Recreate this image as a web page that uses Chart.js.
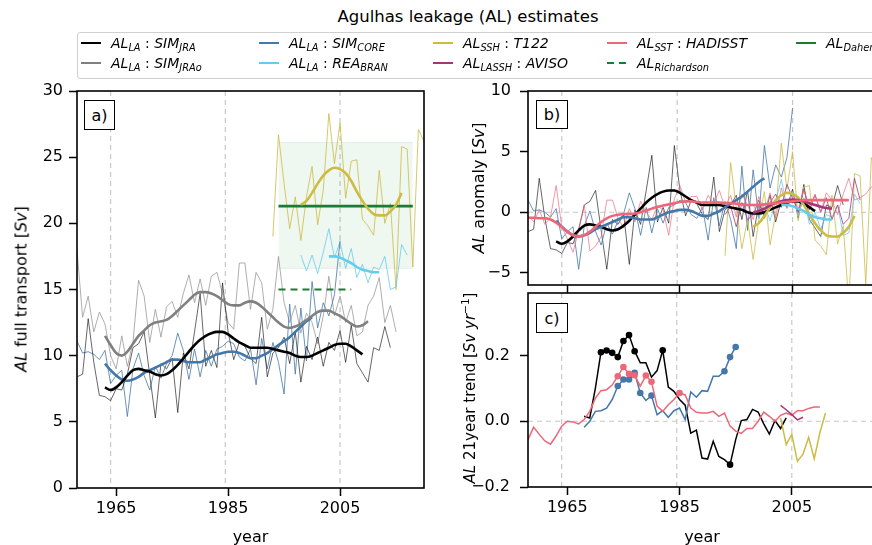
<!DOCTYPE html>
<html>
<head>
<meta charset="utf-8">
<script src="https://cdn.jsdelivr.net/npm/chart.js@4.4.1/dist/chart.umd.min.js"></script>
<style>
  body { margin: 0; width: 872px; height: 545px; overflow: hidden; position: relative; background: #fff; font-family: 'DejaVu Sans', sans-serif; color: #000; }
  canvas { position: absolute; }
  #title { position: absolute; left: 0; width: 936px; top: 7px; text-align: center; font-size: 16.5px; z-index: 3; }
  #legend { position: absolute; left: 77px; top: 32px; width: 820px; height: 45px; border: 1px solid #cfcfcf; border-radius: 3px; background: rgba(255,255,255,0.85); z-index: 3; }
  .it { position: absolute; height: 20px; display: flex; align-items: center; font-size: 14px; white-space: nowrap; }
  .it i { font-style: italic; }
  .sw { display: inline-block; width: 20px; height: 2.6px; margin-right: 10px; }
  sub { font-size: 70%; vertical-align: -0.35em; line-height: 0; }
  sup { font-size: 70%; vertical-align: 0.6em; line-height: 0; }
  .yt { position: absolute; font-size: 16px; white-space: nowrap; transform: translate(-50%, -50%) rotate(-90deg); z-index: 3; }
  .pl { position: absolute; border: 1.3px solid #000; font-size: 16px; display: flex; align-items: center; justify-content: center; background: #fff; z-index: 3; box-sizing: border-box; }
</style>
</head>
<body>
<div id="title">Agulhas leakage (AL) estimates</div>
<div id="legend">
  <div class="it" style="left:3px;top:0px"><span class="sw" style="background:#000"></span><i>AL<sub>LA</sub></i>&nbsp;:&nbsp;<i>SIM<sub>JRA</sub></i></div>
  <div class="it" style="left:3px;top:20px"><span class="sw" style="background:#808080"></span><i>AL<sub>LA</sub></i>&nbsp;:&nbsp;<i>SIM<sub>JRAo</sub></i></div>
  <div class="it" style="left:181px;top:0px"><span class="sw" style="background:#4477AA"></span><i>AL<sub>LA</sub></i>&nbsp;:&nbsp;<i>SIM<sub>CORE</sub></i></div>
  <div class="it" style="left:181px;top:20px"><span class="sw" style="background:#66CCEE"></span><i>AL<sub>LA</sub></i>&nbsp;:&nbsp;<i>REA<sub>BRAN</sub></i></div>
  <div class="it" style="left:355px;top:0px"><span class="sw" style="background:#CCBB44"></span><i>AL<sub>SSH</sub></i>&nbsp;:&nbsp;<i>T122</i></div>
  <div class="it" style="left:355px;top:20px"><span class="sw" style="background:#AA3377"></span><i>AL<sub>LASSH</sub></i>&nbsp;:&nbsp;<i>AVISO</i></div>
  <div class="it" style="left:529px;top:0px"><span class="sw" style="background:#EE6677"></span><i>AL<sub>SST</sub></i>&nbsp;:&nbsp;<i>HADISST</i></div>
  <div class="it" style="left:529px;top:20px"><span class="sw" style="background:repeating-linear-gradient(90deg,#1b7a34 0 7px,transparent 7px 12px)"></span><i>AL<sub>Richardson</sub></i></div>
  <div class="it" style="left:718px;top:0px"><span class="sw" style="background:#1b7a34"></span><i>AL<sub>Daher</sub></i></div>
</div>

<div class="yt" style="left:21px;top:289px"><i>AL</i> full transport [<i>Sv</i>]</div>
<div class="yt" style="left:478px;top:188px"><i>AL</i> anomaly [<i>Sv</i>]</div>
<div class="yt" style="left:470px;top:388px;font-size:15px"><i>AL</i> 21year trend [<i>Sv yr</i><sup>−1</sup>]</div>

<div class="pl" style="left:84px;top:100px;width:31px;height:30px">a)</div>
<div class="pl" style="left:536px;top:100px;width:32px;height:29px">b)</div>
<div class="pl" style="left:536px;top:303px;width:32px;height:30px">c)</div>

<canvas id="chartA" width="440" height="479" style="left:0px;top:71px"></canvas>
<canvas id="chartB" width="440" height="234" style="left:440px;top:71px"></canvas>
<canvas id="chartC" width="440" height="278" style="left:440px;top:272px"></canvas>

<script>
// axis layout
const X_MIN = 1958, X_MAX = 2020;
const tickYears = [1965, 1985, 2005];
const gridYears = [1964, 1984.5, 2005];

// panel a: full transport [Sv], annual values
const jraStart = 1958;
const jraFull = [8.4, 8.6, 12.8, 9.5, 7.0, 6.9, 6.6, 7.5, 7.4, 8.6, 10.6, 10.9, 11.8, 8.5, 5.3, 9.4, 9.0, 9.8, 5.7, 10.2,
  9.0, 11.8, 14.7, 9.2, 10.4, 9.1, 15.5, 11.8, 9.7, 11.0, 10.7, 9.8, 9.4, 12.9, 8.4, 10.2, 10.6, 11.4, 9.4, 11.8,
  8.0, 10.7, 9.7, 11.4, 9.2, 11.0, 10.4, 11.9, 9.5, 12.3, 9.4, 8.7, 8.0, 10.6, 10.4, 12.2, 10.6];
const jraoStart = 1958;
const jraoFull = [18.0, 12.9, 14.5, 11.8, 13.3, 12.4, 10.0, 9.0, 11.5, 9.2, 11.0, 15.7, 14.5, 11.0, 13.5, 11.4, 13.7, 14.1, 12.9, 14.7,
  16.1, 14.0, 15.8, 13.8, 16.0, 16.3, 14.7, 12.5, 12.0, 17.0, 17.0, 13.5, 16.3, 15.5, 12.0, 13.5, 17.5, 14.0, 12.5, 13.8,
  11.7, 13.2, 12.5, 10.9, 13.0, 16.0, 13.0, 14.5, 12.5, 13.8, 11.5, 11.8, 13.8, 14.5, 15.9, 12.5, 13.8, 11.8];
const coreStart = 1958;
const coreFull = [11.1, 10.2, 10.3, 10.1, 9.7, 10.4, 7.9, 8.5, 8.9, 5.4, 9.0, 10.2, 8.5, 7.4, 9.2, 8.3, 9.4, 10.0, 11.7, 10.4,
  8.2, 10.5, 8.4, 10.4, 9.2, 10.5, 10.7, 11.1, 10.9, 9.9, 9.6, 10.5, 7.8, 11.3, 9.0, 11.0, 9.5, 7.1, 13.9, 8.6,
  13.6, 9.6, 15.6, 12.1, 14.0, 13.0, 14.6, 18.7];
const branStart = 1998;
const branFull = [17.6, 16.4, 17.6, 16.2, 17.8, 19.6, 17.4, 18.6, 16.6, 18.1, 15.9, 16.9, 15.5, 16.7, 16.5, 17.5, 15.0, 15.2, 18.4, 17.6];
const t122Start = 1993;
const t122Full = [19.0, 26.7, 23.0, 19.6, 22.0, 18.7, 22.0, 24.3, 19.9, 22.5, 28.3, 24.5, 27.6, 21.9, 24.7, 24.8, 20.3, 19.8, 19.1, 24.0,
  20.0, 21.5, 15.0, 25.8, 25.6, 16.7, 27.1, 26.2];

// panel a: low-pass curves
const jraSmoothStart = 1963;
const jraSmooth = [7.6, 7.4, 7.6, 8.0, 8.5, 8.9, 9.0, 8.9, 8.8, 8.6, 8.5, 8.6, 8.9, 9.3, 9.8, 10.3, 10.8, 11.2, 11.5, 11.7,
  11.8, 11.8, 11.6, 11.3, 11.0, 10.8, 10.6, 10.6, 10.6, 10.6, 10.5, 10.4, 10.3, 10.2, 10.0, 9.9, 9.9, 10.0, 10.2, 10.4,
  10.6, 10.8, 10.9, 10.9, 10.7, 10.4, 10.1];
const jraoSmoothStart = 1963;
const jraoSmooth = [11.5, 10.8, 10.2, 10.0, 10.3, 10.9, 11.5, 11.9, 12.3, 12.5, 12.6, 12.7, 13.0, 13.4, 13.8, 14.2, 14.6, 14.8, 14.8, 14.7,
  14.5, 14.2, 13.9, 13.8, 13.8, 14.0, 14.1, 14.0, 13.7, 13.3, 12.9, 12.5, 12.2, 12.1, 12.2, 12.4, 12.7, 13.0, 13.3, 13.4,
  13.4, 13.2, 13.0, 12.7, 12.4, 12.2, 12.3, 12.6];
const coreSmoothStart = 1963;
const coreSmooth = [9.4, 8.9, 8.5, 8.2, 8.1, 8.2, 8.4, 8.7, 8.9, 9.1, 9.3, 9.5, 9.7, 9.7, 9.6, 9.5, 9.5, 9.5, 9.7, 9.9,
  10.1, 10.2, 10.3, 10.3, 10.2, 10.0, 9.8, 9.8, 10.0, 10.2, 10.5, 10.8, 11.1, 11.4, 11.8, 12.2, 12.6, 12.9];
const branSmoothStart = 2003;
const branSmooth = [17.5, 17.5, 17.4, 17.2, 17.0, 16.7, 16.5, 16.4, 16.3, 16.3];
const t122SmoothStart = 1998;
const t122Smooth = [21.4, 21.7, 22.3, 23.0, 23.6, 24.0, 24.2, 24.1, 23.8, 23.2, 22.4, 21.7, 21.1, 20.7, 20.6, 20.6, 20.9, 21.4, 22.3];

// panel a: observational estimates
const daherYears = [1994, 2018];
const daherMean = 21.3, daherHigh = 26.1, daherLow = 16.6;
const richardsonYears = [1994, 2007];
const richardsonValue = 15.0;

// panel b: anomalies [Sv]
const jraAnom = [-1.6, -1.4, 2.8, -0.5, -3.0, -3.1, -3.4, -2.5, -2.6, -1.4, 0.6, 0.9, 1.8, -1.5, -4.7, -0.6, -1.0, -0.2, -4.3, 0.2,
  -1.0, 1.8, 4.7, -0.8, 0.4, -0.9, 5.5, 1.8, -0.3, 1.0, 0.7, -0.2, -0.6, 2.9, -1.6, 0.2, 0.6, 1.4, -0.6, 1.8,
  -2.0, 0.7, -0.3, 1.4, -0.8, 1.0, 0.4, 1.9, -0.5, 2.3, -0.6, -1.3, -2.0, 0.6, 0.4, 2.2, 0.6];
const coreAnom = [1.0, 0.1, 0.2, 0.0, -0.4, 0.3, -2.2, -1.6, -1.2, -4.7, -1.1, 0.1, -1.6, -2.7, -0.9, -1.8, -0.7, -0.1, 1.6, 0.3,
  -1.9, 0.4, -1.7, 0.3, -0.9, 0.4, 0.6, 1.0, 0.8, -0.2, -0.5, 0.4, -2.3, 1.2, -1.1, 0.9, -0.6, -3.0, 3.8, -1.5,
  3.5, -0.5, 5.5, 2.0, 3.9, 2.9, 4.5, 8.6];
const branAnom = [0.7, -0.5, 0.7, -0.7, 0.9, 2.7, 0.5, 1.7, -0.3, 1.2, -1.0, 0.0, -1.4, -0.2, -0.4, 0.6, -1.9, -1.7, 1.5, 0.7];
const t122Anom = [-3.6, 4.1, 0.4, -3.0, -0.6, -3.9, -0.6, 1.7, -2.7, -0.1, 5.7, 1.9, 5.0, -0.7, 2.1, 2.2, -2.3, -2.8, -3.5, 1.4,
  -2.6, -1.1, -7.6, 3.2, 3.0, -5.9, 4.5, 3.6];
const avisoStart = 1993;
const avisoAnom = [-0.2, 0.5, -1.2, 0.8, -0.6, -0.2, 1.0, -0.5, 0.8, 1.5, 0.4, 2.3, 1.2, 0.0, 1.9, 0.2, 1.4, 0.0, 1.2, -0.6,
  0.6, -1.0, -0.5, 2.8, 1.0];
const hadStart = 1958;
const hadAnom = [-0.3, -0.8, 0.2, -1.0, -0.4, 2.2, -1.2, -2.2, -3.3, -1.5, 0.6, -3.2, -2.8, -2.0, 1.0, 1.0, -0.5, -1.3, 0.3, -0.8,
  0.9, 0.0, -0.6, 0.5, 0.2, -1.9, 1.1, 2.2, 0.8, 1.3, 1.3, 0.2, 1.4, 0.7, 1.8, 0.4, 1.4, -0.4, 1.5, 0.6,
  -0.6, 1.3, 0.0, 1.6, -0.5, 2.0, 0.3, 1.5, 0.2, 1.8, 0.5, 1.5, 0.0, 1.6, 1.0, -0.2, 1.5, 2.8, 1.0, 1.2,
  1.5, 2.1, 2.0];

// panel b: low-pass anomalies
const jraAnomSmooth = [-2.4, -2.6, -2.4, -2.0, -1.5, -1.1, -1.0, -1.1, -1.2, -1.4, -1.5, -1.4, -1.1, -0.7, -0.2, 0.3, 0.8, 1.2, 1.5, 1.7,
  1.8, 1.8, 1.6, 1.3, 1.0, 0.8, 0.6, 0.6, 0.6, 0.6, 0.5, 0.4, 0.3, 0.2, 0.0, -0.1, -0.1, 0.0, 0.2, 0.4,
  0.6, 0.8, 0.9, 0.9, 0.7, 0.4, 0.1];
const coreAnomSmooth = [-0.7, -1.2, -1.6, -1.9, -2.0, -1.9, -1.7, -1.4, -1.2, -1.0, -0.8, -0.6, -0.4, -0.4, -0.5, -0.6, -0.6, -0.6, -0.4, -0.2,
  0.0, 0.1, 0.2, 0.2, 0.1, -0.1, -0.3, -0.3, -0.1, 0.1, 0.4, 0.7, 1.0, 1.3, 1.7, 2.1, 2.5, 2.8];
const branAnomSmooth = [0.6, 0.6, 0.5, 0.3, 0.1, -0.2, -0.4, -0.5, -0.6, -0.6];
const t122AnomSmooth = [-1.2, -0.9, -0.3, 0.4, 1.0, 1.4, 1.6, 1.5, 1.2, 0.6, -0.2, -0.9, -1.5, -1.9, -2.0, -2.0, -1.7, -1.2, -0.3];
const avisoSmoothStart = 1998;
const avisoAnomSmooth = [-0.05, 0.1, 0.3, 0.55, 0.75, 0.9, 1.0, 1.05, 1.0, 0.9, 0.75, 0.6, 0.45, 0.35, 0.3];
const hadSmoothStart = 1958;
const hadAnomSmooth = [-0.45, -0.45, -0.5, -0.5, -0.6, -0.85, -1.2, -1.6, -1.9, -2.0, -1.9, -1.6, -1.2, -0.8, -0.5, -0.3, -0.2, -0.15, -0.15, -0.1,
  0.0, 0.15, 0.3, 0.45, 0.55, 0.65, 0.75, 0.85, 0.9, 0.9, 0.85, 0.8, 0.8, 0.8, 0.8, 0.75, 0.75, 0.7, 0.65, 0.6,
  0.6, 0.6, 0.65, 0.7, 0.75, 0.8, 0.85, 0.9, 0.95, 1.0, 1.0, 1.0, 1.0, 1.0, 1.0, 1.0, 1.0, 1.0];

// panel c: 21-year running trends [Sv/yr]; *Sig = years with a dot (significant)
const hadTrendStart = 1958;
const hadTrend = [-0.056, -0.018, -0.04, -0.06, -0.07, -0.045, -0.015, 0.0, -0.002, -0.008, 0.005, 0.03, 0.07, 0.093, 0.096, 0.11, 0.137, 0.165, 0.144, 0.14,
  0.107, 0.139, 0.12, 0.046, 0.03, 0.05, 0.066, 0.086, 0.08, 0.04, 0.027, 0.025, 0.025, 0.03, 0.015, 0.025, -0.015, -0.03, -0.037, -0.022,
  -0.022, 0.0, 0.028, 0.015, 0.0, 0.018, 0.025, 0.018, 0.032, 0.032, 0.039, 0.043, 0.043];
const hadTrendSig = [1974, 1975, 1976, 1977, 1979, 1980, 1985];
const jraTrendStart = 1968;
const jraTrend = [0.015, 0.01, 0.10, 0.21, 0.215, 0.208, 0.195, 0.244, 0.262, 0.213, 0.178, 0.178, 0.134, 0.154, 0.216, 0.104, 0.091, 0.066, 0.049, -0.036,
  -0.027, -0.112, -0.115, -0.061, -0.107, -0.117, -0.132, -0.056, 0.002, 0.005, 0.036, 0.028, -0.008, -0.039, 0.002, -0.022, 0.01];
const jraTrendSig = [1971, 1972, 1973, 1974, 1975, 1976, 1977, 1982, 1994];
const coreTrendStart = 1968;
const coreTrend = [-0.018, 0.0, 0.03, 0.032, 0.04, 0.066, 0.107, 0.127, 0.127, 0.147, 0.086, 0.063, 0.078, 0.02, 0.032, 0.012, 0.032, 0.04, 0.005, 0.089,
  0.073, 0.093, 0.091, 0.137, 0.137, 0.152, 0.195, 0.226];
const coreTrendSig = [1974, 1975, 1976, 1977, 1978, 1980, 1993, 1994, 1995];
const avisoTrendStart = 2003;
const avisoTrend = [0.048, 0.035, 0.02, 0.004, 0.012];
const t122TrendStart = 2003;
const t122Trend = [0.01, -0.071, -0.04, -0.122, -0.10, -0.049, -0.114, -0.035, 0.025];

// colours
const C = {
  jra: '#000000', jrao: '#808080', core: '#4477AA', bran: '#66CCEE',
  t122: '#CCBB44', aviso: '#AA3377', had: '#EE6677', daher: '#1b7a34'
};

Chart.defaults.font.family = "'DejaVu Sans', sans-serif";
Chart.defaults.color = '#000';

function pts(start, values) {
  return values.map((v, i) => ({ x: start + i, y: v }));
}

function thin(data, color, width) {
  return { data, borderColor: color, borderWidth: width || 0.8, pointRadius: 0, fill: false, clip: 0 };
}

function thick(data, color) {
  return { data, borderColor: color, borderWidth: 2.6, pointRadius: 0, fill: false, clip: 0, cubicInterpolationMode: 'monotone' };
}

function trend(data, color, sig) {
  return {
    data, borderColor: color, borderWidth: 1.5, fill: false, clip: 0,
    pointRadius: ctx => (sig && ctx.raw && sig.includes(ctx.raw.x)) ? 3.3 : 0,
    pointBackgroundColor: color, pointBorderWidth: 0
  };
}

const tickGrid = { drawOnChartArea: false, drawTicks: true, tickLength: 8, tickWidth: 1.5, tickColor: '#000' };

function xScale(showLabels, height) {
  return {
    type: 'linear', min: X_MIN, max: X_MAX,
    afterBuildTicks: s => { s.ticks = tickYears.map(v => ({ value: v })); },
    afterFit: s => { s.height = height; },
    grid: tickGrid,
    border: { display: false },
    ticks: { padding: 3, font: { size: 16 }, maxRotation: 0, autoSkip: false, callback: v => showLabels ? String(v) : '' },
    title: { display: showLabels, text: 'year', font: { size: 16 }, padding: { top: 0, bottom: 3 } }
  };
}

function yScale(min, max, ticks, width, fmt, pad) {
  return {
    type: 'linear', min, max,
    afterBuildTicks: s => { s.ticks = ticks.map(v => ({ value: v })); },
    afterFit: s => { s.width = width; },
    grid: tickGrid,
    border: { display: false },
    ticks: { padding: pad, font: { size: 16 }, callback: fmt }
  };
}

const minus = v => String(v).replace('-', '\u2212');

// dashed reference lines and the box around each panel
function decor(zeroLine) {
  return {
    id: 'decor',
    beforeDatasetsDraw(chart) {
      const { ctx, chartArea: a, scales: { x, y } } = chart;
      ctx.save();
      ctx.strokeStyle = '#c8c8c8';
      ctx.lineWidth = 1.2;
      ctx.setLineDash([5, 4]);
      gridYears.forEach(g => {
        const px = x.getPixelForValue(g);
        ctx.beginPath(); ctx.moveTo(px, a.top); ctx.lineTo(px, a.bottom); ctx.stroke();
      });
      if (zeroLine) {
        const py = y.getPixelForValue(0);
        ctx.beginPath(); ctx.moveTo(a.left, py); ctx.lineTo(a.right, py); ctx.stroke();
      }
      ctx.restore();
    },
    afterDatasetsDraw(chart) {
      const { ctx, chartArea: a } = chart;
      ctx.save();
      ctx.strokeStyle = '#000';
      ctx.lineWidth = 1.6;
      ctx.strokeRect(a.left, a.top, a.right - a.left, a.bottom - a.top);
      ctx.restore();
    }
  };
}

function baseOptions(padding, scales) {
  return {
    responsive: false, animation: false, devicePixelRatio: 1,
    layout: { padding },
    plugins: { legend: { display: false }, tooltip: { enabled: false } },
    scales
  };
}

// panel a: chart area 77..424 x 91..488
new Chart(document.getElementById('chartA'), {
  type: 'line',
  data: {
    datasets: [
      thick(pts(jraoSmoothStart, jraoSmooth), C.jrao),
      thick(pts(jraSmoothStart, jraSmooth), C.jra),
      thick(pts(coreSmoothStart, coreSmooth), C.core),
      thick(pts(t122SmoothStart, t122Smooth), C.t122),
      thick(pts(branSmoothStart, branSmooth), C.bran),
      { data: daherYears.map(x => ({ x, y: daherMean })), borderColor: C.daher, borderWidth: 2.6, pointRadius: 0, fill: false },
      { data: richardsonYears.map(x => ({ x, y: richardsonValue })), borderColor: C.daher, borderWidth: 2, borderDash: [7, 5], pointRadius: 0, fill: false },
      thin(pts(jraStart, jraFull), 'rgba(0,0,0,0.75)'),
      thin(pts(coreStart, coreFull), C.core),
      thin(pts(branStart, branFull), C.bran),
      thin(pts(t122Start, t122Full), C.t122),
      thin(pts(jraoStart, jraoFull), '#999999'),
      { data: daherYears.map(x => ({ x, y: daherHigh })), borderColor: 'rgba(34,136,51,0.10)', borderWidth: 1, pointRadius: 0, fill: false },
      { data: daherYears.map(x => ({ x, y: daherLow })), borderColor: 'rgba(34,136,51,0.10)', borderWidth: 1, pointRadius: 0,
        fill: '-1', backgroundColor: 'rgba(34,136,51,0.07)' }
    ]
  },
  options: baseOptions({ left: 0, right: 16, top: 20, bottom: 0 }, {
    x: xScale(true, 62),
    y: yScale(0, 30, [0, 5, 10, 15, 20, 25, 30], 77, v => String(v), 6)
  }),
  plugins: [decor(false)]
});

// panel b: chart area 528..877 x 91..285
new Chart(document.getElementById('chartB'), {
  type: 'line',
  data: {
    datasets: [
      thick(pts(hadSmoothStart, hadAnomSmooth), C.had),
      thick(pts(avisoSmoothStart, avisoAnomSmooth), C.aviso),
      thick(pts(branSmoothStart, branAnomSmooth), C.bran),
      thick(pts(t122SmoothStart, t122AnomSmooth), C.t122),
      thick(pts(coreSmoothStart, coreAnomSmooth), C.core),
      thick(pts(jraSmoothStart, jraAnomSmooth), C.jra),
      thin(pts(hadStart, hadAnom), 'rgba(238,102,119,0.85)'),
      thin(pts(avisoStart, avisoAnom), C.aviso),
      thin(pts(branStart, branAnom), C.bran),
      thin(pts(t122Start, t122Anom), C.t122),
      thin(pts(coreStart, coreAnom), C.core),
      thin(pts(jraStart, jraAnom), 'rgba(0,0,0,0.75)')
    ]
  },
  options: baseOptions({ left: 0, right: 3, top: 20, bottom: 0 }, {
    x: xScale(false, 20),
    y: yScale(-6, 10, [-5, 0, 5, 10], 88, minus, 9)
  }),
  plugins: [decor(true)]
});

// panel c: chart area 528..877 x 293..487
new Chart(document.getElementById('chartC'), {
  type: 'line',
  data: {
    datasets: [
      trend(pts(avisoTrendStart, avisoTrend), C.aviso),
      trend(pts(t122TrendStart, t122Trend), C.t122),
      trend(pts(hadTrendStart, hadTrend), C.had, hadTrendSig),
      trend(pts(coreTrendStart, coreTrend), C.core, coreTrendSig),
      trend(pts(jraTrendStart, jraTrend), C.jra, jraTrendSig)
    ]
  },
  options: baseOptions({ left: 0, right: 3, top: 21, bottom: 0 }, {
    x: xScale(true, 63),
    y: yScale(-0.2, 0.39, [-0.2, 0, 0.2], 88, v => minus(v.toFixed(1)), 10)
  }),
  plugins: [decor(true)]
});
</script>
</body>
</html>
